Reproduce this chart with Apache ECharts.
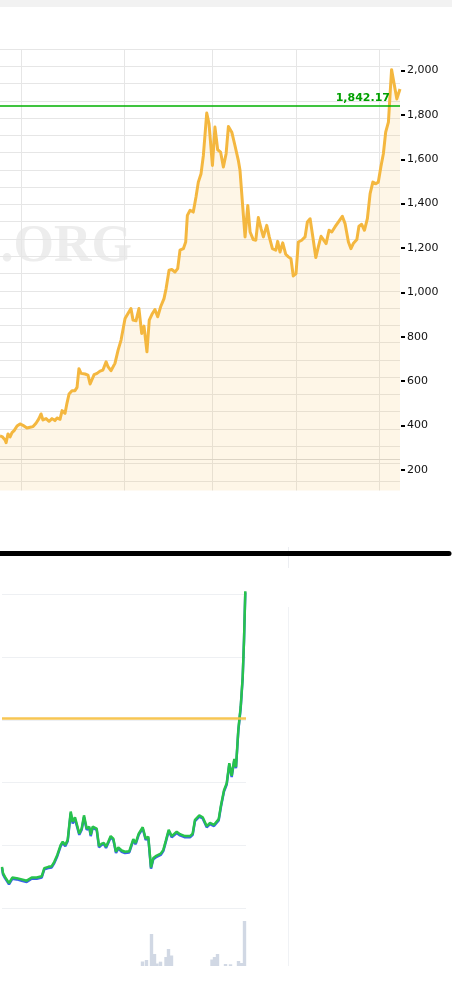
<!DOCTYPE html>
<html>
<head>
<meta charset="utf-8">
<script src="https://cdn.jsdelivr.net/npm/echarts@6/dist/echarts.min.js"></script>
<style>
  html, body { margin: 0; padding: 0; background: #fff; }
  #chart { width: 452px; height: 998px; }
</style>
</head>
<body>
<div id="chart"></div>
<script>
// top chart: gold price (decimal years / USD)
const goldYears = [2002.00, 2002.10, 2002.24, 2002.29, 2002.38, 2002.48, 2002.57, 2002.67, 2002.81, 2002.95,
  2003.09, 2003.28, 2003.43, 2003.57, 2003.71, 2003.85, 2003.95, 2004.04, 2004.19, 2004.33,
  2004.47, 2004.61, 2004.71, 2004.85, 2004.95, 2005.09, 2005.18, 2005.28, 2005.42, 2005.56,
  2005.66, 2005.75, 2005.85, 2006.04, 2006.18, 2006.28, 2006.37, 2006.47, 2006.61, 2006.75,
  2006.89, 2007.04, 2007.13, 2007.27, 2007.46, 2007.61, 2007.75, 2007.94, 2008.08, 2008.22,
  2008.32, 2008.46, 2008.60, 2008.73, 2008.84, 2008.98, 2009.09, 2009.24, 2009.36, 2009.49,
  2009.63, 2009.79, 2009.89, 2010.03, 2010.16, 2010.31, 2010.44, 2010.55, 2010.71, 2010.82,
  2010.90, 2011.03, 2011.18, 2011.31, 2011.42, 2011.55, 2011.66, 2011.82, 2011.93, 2012.09,
  2012.21, 2012.34, 2012.48, 2012.61, 2012.74, 2012.85, 2013.01, 2013.16, 2013.32, 2013.40,
  2013.53, 2013.64, 2013.77, 2013.88, 2014.03, 2014.15, 2014.27, 2014.40, 2014.51, 2014.67,
  2014.79, 2014.94, 2015.10, 2015.19, 2015.30, 2015.43, 2015.57, 2015.70, 2015.82, 2015.93,
  2016.06, 2016.17, 2016.33, 2016.49, 2016.60, 2016.73, 2016.86, 2017.00, 2017.12, 2017.25,
  2017.36, 2017.49, 2017.63, 2017.76, 2017.91, 2018.07, 2018.26, 2018.39, 2018.55, 2018.67,
  2018.78, 2018.95, 2019.05, 2019.18, 2019.31, 2019.45, 2019.58, 2019.71, 2019.85, 2019.97,
  2020.09, 2020.21, 2020.32, 2020.45, 2020.53, 2020.60, 2020.72, 2020.85, 2021.00];
const goldPrices = [353, 350, 335, 323, 362, 348, 368, 377, 398, 407,
  401, 389, 392, 395, 410, 431, 452, 425, 431, 419,
  431, 422, 434, 428, 467, 455, 500, 542, 557, 557,
  572, 656, 635, 632, 627, 587, 581, 629, 635, 645,
  650, 687, 665, 647, 680, 740, 785, 882, 905, 927,
  875, 872, 927, 815, 848, 732, 875, 905, 923, 890,
  935, 972, 1017, 1100, 1103, 1092, 1107, 1190, 1197, 1227,
  1347, 1370, 1362, 1430, 1497, 1535, 1617, 1808, 1760, 1572,
  1745, 1643, 1632, 1565, 1625, 1748, 1722, 1662, 1595, 1550,
  1385, 1250, 1392, 1272, 1238, 1235, 1337, 1287, 1250, 1302,
  1250, 1197, 1190, 1230, 1182, 1223, 1172, 1160, 1152, 1074,
  1085, 1227, 1235, 1250, 1317, 1332, 1250, 1157, 1205, 1253,
  1238, 1220, 1280, 1272, 1295, 1317, 1343, 1310, 1227, 1197,
  1220, 1238, 1298, 1307, 1280, 1332, 1445, 1497, 1490, 1497,
  1565, 1625, 1722, 1767, 1895, 2004, 1940, 1872, 1917];
const priceTicks = [200, 400, 600, 800, 1000, 1200, 1400, 1600, 1800, 2000];
const yearLines = [2003, 2007.92, 2012.09, 2016.05, 2020];
const baseLine = 248;
const currentPrice = 1842.17;

// bottom chart: two close lines + volume bars
const lowerT = [0, 1, 3, 7, 10.3, 14.7, 19.7, 24.7, 29.7, 34.7,
  39.7, 42.3, 46.3, 49.7, 52.3, 55.3, 58.7, 60.7, 63.3, 65.7,
  68.7, 70.7, 73, 77.3, 79.7, 82, 84.7, 87.3, 88.7, 90.7,
  94.7, 97, 99.7, 102, 104, 106.3, 108.7, 111.3, 114, 116.3,
  119.7, 123, 127.3, 131.3, 133.7, 136.7, 140.7, 143.7, 146.3, 149,
  151.3, 154.7, 158.7, 161.3, 163.7, 166.7, 169.7, 174.7, 178, 183,
  188, 190.7, 193, 197.3, 200.7, 204.7, 208, 212, 216.7, 219,
  222, 224.7, 227.3, 229.7, 232.3, 234, 236.3, 238.7, 240.7, 242,
  243.3];
const greenLine = [66, 56, 50, 40, 49, 48, 46, 44, 49, 49,
  51, 64, 66, 67, 74, 85, 101, 106, 101, 109,
  154, 138, 145, 119, 127, 148, 127, 130, 117, 130,
  127, 99, 103, 104, 98, 106, 115, 111, 90, 97,
  92, 90, 91, 110, 104, 119, 129, 111, 114, 65,
  80, 84, 87, 93, 107, 125, 115, 122, 118, 115,
  115, 119, 141, 148, 145, 131, 136, 133, 142, 164,
  188, 199, 231, 211, 238, 225, 284, 321, 369, 427,
  505];
const blueLine = [64, 54, 48, 38, 47, 46, 44, 42, 47, 47,
  49, 62, 64, 65, 72, 83, 99, 104, 99, 107,
  151, 135, 142, 117, 125, 145, 125, 128, 115, 128,
  125, 97, 101, 102, 96, 104, 113, 109, 88, 95,
  90, 88, 89, 108, 102, 117, 127, 109, 112, 63,
  78, 82, 85, 91, 105, 123, 113, 120, 116, 113,
  113, 117, 139, 146, 143, 129, 134, 131, 140, 162,
  186, 197, 229, 209, 236, 223, 282, 319, 367, 425,
  503];
const refLevel = 302;
const volumeT = [140.5, 144.5, 149.5, 152.5, 155, 158.5, 164, 166.5, 169.5,
  210, 212.5, 215.5, 223.5, 228.5, 236.5, 239.5, 242.5];
const volumes = [4.5, 6, 32, 12, 2.5, 4.3, 9, 17, 10.5,
  6.5, 9, 12, 2, 1.7, 5, 3, 45];

const pairs = (xs, ys) => xs.map((x, i) => [x, ys[i]]);

const chart = echarts.init(document.getElementById('chart'), null, { renderer: 'canvas' });

const hidden = { axisLine: { show: false }, axisTick: { show: false }, axisLabel: { show: false }, splitLine: { show: false } };

const option = {
  animation: false,
  backgroundColor: '#fff',
  grid: [
    { left: 0, top: 49, width: 400, height: 441.5 },
    { left: 2, top: 594.3, width: 244, height: 314 },
    { left: 2, top: 906, width: 244, height: 60 }
  ],
  xAxis: [
    Object.assign({ gridIndex: 0, type: 'value', min: 2002, max: 2021 }, hidden),
    Object.assign({ gridIndex: 1, type: 'value', min: 0, max: 244 }, hidden),
    Object.assign({ gridIndex: 2, type: 'value', min: 0, max: 244 }, hidden)
  ],
  yAxis: [
    {
      gridIndex: 0, type: 'value', position: 'right', offset: 1, min: 107, max: 2097,
      axisLine: { show: false },
      axisTick: { show: true, length: 4, customValues: priceTicks, lineStyle: { color: '#000', width: 2 } },
      axisLabel: {
        customValues: priceTicks, margin: 6, color: '#111', fontSize: 11, fontFamily: 'DejaVu Sans',
        formatter: v => v.toLocaleString('en-US')
      },
      splitLine: { show: false }
    },
    {
      gridIndex: 0, type: 'value', position: 'left', inverse: true, min: 0, max: 25.56, interval: 1,
      axisLine: { show: false }, axisTick: { show: false }, axisLabel: { show: false },
      splitLine: { show: true, showMaxLine: false, lineStyle: { color: '#e6e6e6', width: 1 } }
    },
    {
      gridIndex: 1, type: 'value', min: 0, max: 500, interval: 100,
      axisLine: { show: false }, axisTick: { show: false }, axisLabel: { show: false },
      splitLine: { show: true, lineStyle: { color: '#eef0f3', width: 1 } }
    },
    Object.assign({ gridIndex: 2, type: 'value', min: 0, max: 60 }, hidden)
  ],
  graphic: [
    { type: 'rect', z: 0, shape: { x: 0, y: 0, width: 452, height: 7 }, style: { fill: '#f2f2f2' } },
    {
      type: 'text', z: 0, x: 132, y: 247.5,
      style: { text: 'GOLDPRICE.ORG', font: 'bold 52px "Liberation Serif"', fill: '#ededed', align: 'right', verticalAlign: 'middle' }
    },
    { type: 'line', z: 10, shape: { x1: 0, y1: 553.5, x2: 449, y2: 553.5 }, style: { stroke: '#000', lineWidth: 5, lineCap: 'round' } },
    { type: 'line', z: 0, shape: { x1: 288.5, y1: 547, x2: 288.5, y2: 568 }, style: { stroke: '#eceef2', lineWidth: 1 } },
    { type: 'line', z: 0, shape: { x1: 288.5, y1: 607, x2: 288.5, y2: 966 }, style: { stroke: '#f0f2f5', lineWidth: 1 } }
  ],
  series: [
    {
      // vertical grid lines behind the price
      type: 'line', xAxisIndex: 0, yAxisIndex: 0, z: 1, silent: true,
      data: pairs(goldYears, goldPrices), showSymbol: false, lineStyle: { opacity: 0 },
      markLine: {
        z: 1, silent: true, symbol: 'none', label: { show: false },
        lineStyle: { color: '#e6e6e6', width: 1, type: 'solid', opacity: 1 },
        data: yearLines.map(y => ({ xAxis: y })).concat([{ yAxis: baseLine, lineStyle: { color: '#d8d8d8' } }])
      }
    },
    {
      type: 'line', xAxisIndex: 0, yAxisIndex: 0, z: 3,
      data: pairs(goldYears, goldPrices),
      showSymbol: false,
      lineStyle: { color: '#f4b73f', width: 3, join: 'round' },
      areaStyle: { color: 'rgba(244,182,63,0.18)', origin: 'start' }
    },
    {
      // current price marker
      type: 'line', xAxisIndex: 0, yAxisIndex: 0, z: 4, silent: true,
      data: [], showSymbol: false,
      markLine: {
        z: 6, silent: true, symbol: 'none',
        lineStyle: { color: '#00b000', width: 1.5, type: 'solid', opacity: 1 },
        label: {
          show: true, position: 'insideEndTop', distance: [10, 2],
          formatter: '1,842.17', color: '#00a000', fontWeight: 'bold', fontSize: 11, fontFamily: 'DejaVu Sans'
        },
        data: [{ yAxis: currentPrice }]
      }
    },
    {
      type: 'line', xAxisIndex: 1, yAxisIndex: 2, z: 2, clip: false,
      data: pairs(lowerT, blueLine), showSymbol: false,
      lineStyle: { color: '#3a63e8', width: 2.5 }
    },
    {
      type: 'line', xAxisIndex: 1, yAxisIndex: 2, z: 3, clip: false,
      data: pairs(lowerT, greenLine), showSymbol: false,
      lineStyle: { color: '#27c24c', width: 2.5 },
      markLine: {
        silent: true, symbol: 'none', label: { show: false },
        lineStyle: { color: '#f7c34a', width: 2.5, type: 'solid', opacity: 0.95 },
        data: [{ yAxis: refLevel }]
      }
    },
    {
      type: 'bar', xAxisIndex: 2, yAxisIndex: 3,
      data: pairs(volumeT, volumes), barWidth: 3.4,
      itemStyle: { color: '#d1d8e4' }
    }
  ]
};

chart.setOption(option);
</script>
</body>
</html>
